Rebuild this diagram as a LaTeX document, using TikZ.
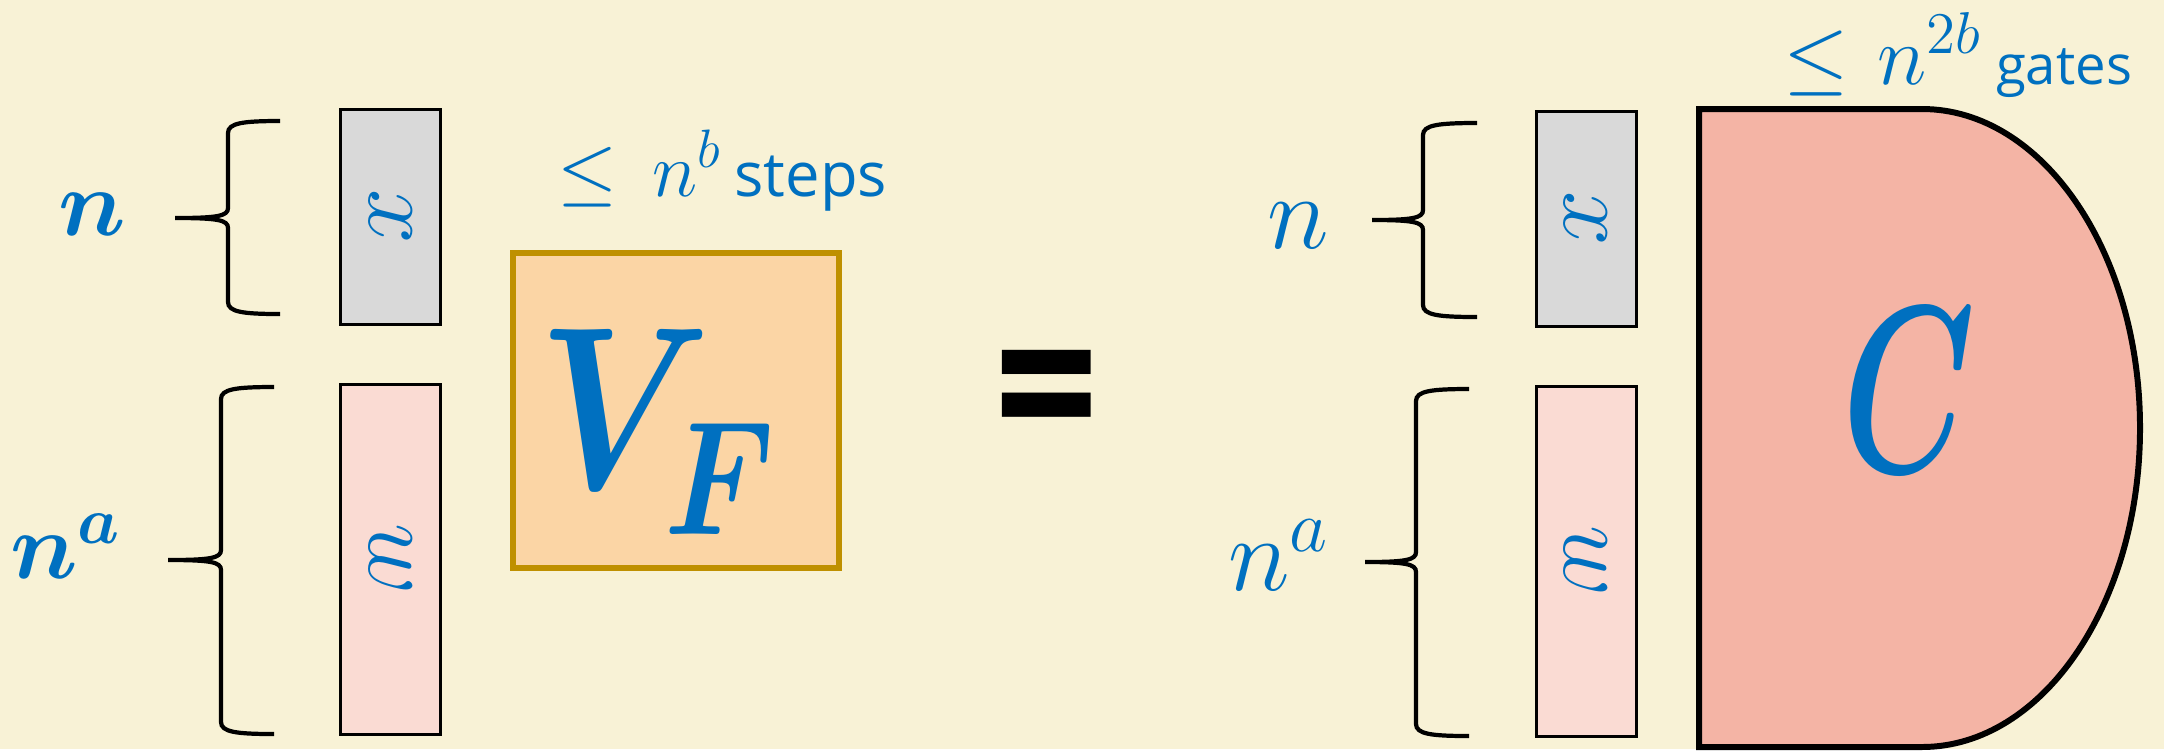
\RequirePackage{fix-cm}
\documentclass[tikz,border=0pt]{standalone}
\usepackage{bm}
\usepackage[no-math]{fontspec}
\setmainfont{Open Sans}
\definecolor{SlideCream}{HTML}{F8F2D6}
\definecolor{SlideBlue}{HTML}{0070C0}
\definecolor{InGray}{HTML}{D9D9D9}
\definecolor{WitPink}{HTML}{FADBD3}
\definecolor{VfPeach}{HTML}{FBD5A5}
\definecolor{VfGold}{HTML}{BF9000}
\definecolor{CircSalmon}{HTML}{F4B4A5}

% brace: end x, stem x, tip x, top y, tip y, bottom y
\newcommand{\sizebrace}[6]{%
  \draw[bracestroke] (#1,#4) .. controls (#2+15,#4) and (#2,#4+2) .. (#2,#4+12)
    -- (#2,#5-10) .. controls (#2,#5-2) and (#2-10,#5) .. (#3,#5)
    .. controls (#2-10,#5) and (#2,#5+2) .. (#2,#5+10)
    -- (#2,#6-12) .. controls (#2,#6-2) and (#2+15,#6) .. (#1,#6);}

\begin{document}
\begin{tikzpicture}[
  x=0.1mm, y=-0.1mm,
  bitbox/.style={draw=black, line width=0.85pt, minimum width=10mm,
                 inner sep=0pt, text=SlideBlue,
                 font=\fontsize{28}{28}\selectfont},
  inbox/.style={bitbox, fill=InGray, minimum height=21.5mm},
  witbox/.style={bitbox, fill=WitPink, minimum height=35mm},
  machine/.style={draw=VfGold, line width=1.5pt, fill=VfPeach,
                  minimum width=32.6mm, minimum height=31.5mm},
  circuit/.style={draw=black, line width=1.7pt, fill=CircSalmon},
  lbl/.style={text=SlideBlue, inner sep=0pt},
  bracestroke/.style={line width=1.2pt, black}
]
  % background
  \fill[SlideCream] (0,0) rectangle (2164,749);

  % Left: verifier
  \node[inbox]  (xl) at (390.5,216.5) {\rotatebox{-90}{$x$}};
  \node[witbox] (wl) at (390.5,559)   {\rotatebox{-90}{$w$}};
  \sizebrace{280}{228}{175}{121}{218}{314}
  \sizebrace{274}{221}{168}{387}{560}{734}
  \node[lbl, anchor=base, font=\fontsize{27}{27}\selectfont] (nl) at (92,235) {$\bm{n}$};
  \node[lbl, anchor=base, font=\fontsize{27}{27}\selectfont] (nal) at (66,578) {$\bm{n}^{\bm{a}}$};

  \node[machine] (vf) at (676,410.5) {};
  \node[lbl, anchor=base west, font=\fontsize{66}{66}\selectfont] (vfname) at (538,488)
    {\scalebox{0.8}[1]{$\bm{V}_{\lower3.4pt\hbox{$\scriptstyle\bm{F}$}}$}};
  \node[lbl, anchor=base west, font=\fontsize{22}{22}\selectfont] (steps) at (557,196)
    {$\leq\mskip 3mu n^{b}$\,{\fontsize{17.5}{17.5}\selectfont steps}};

  % equals
  \node[inner sep=0pt, font=\fontsize{56}{56}\selectfont\bfseries] (eq) at (1047,407)
    {\scalebox{0.93}[1.15]{=}};

  % Right: circuit
  \node[inbox]  (xr) at (1586,218.5) {\rotatebox{-90}{$x$}};
  \node[witbox] (wr) at (1586,561)   {\rotatebox{-90}{$w$}};
  \sizebrace{1477}{1423}{1372}{123}{220}{317}
  \sizebrace{1469}{1416}{1365}{389}{562}{736}
  \node[lbl, anchor=base, font=\fontsize{30}{30}\selectfont] (nr) at (1298,248) {$n$};
  \node[lbl, anchor=base, font=\fontsize{30}{30}\selectfont] (nar) at (1279,590) {$n^{a}$};

  \draw[circuit] (1699,109) -- (1922,109)
    arc[start angle=90, end angle=-90, x radius=21.8mm, y radius=31.9mm]
    -- (1699,747) -- cycle;
  \node[lbl] (cname) at (1909,390)
    {\scalebox{0.63}[1]{\fontsize{68}{68}\selectfont$\bm{C}$}};
  \node[lbl, anchor=base west, font=\fontsize{24}{24}\selectfont] (gates) at (1783,84)
    {$\leq\mskip 1mu n^{2b}$\,{\fontsize{15.5}{15.5}\selectfont gates}};
\end{tikzpicture}
\end{document}
